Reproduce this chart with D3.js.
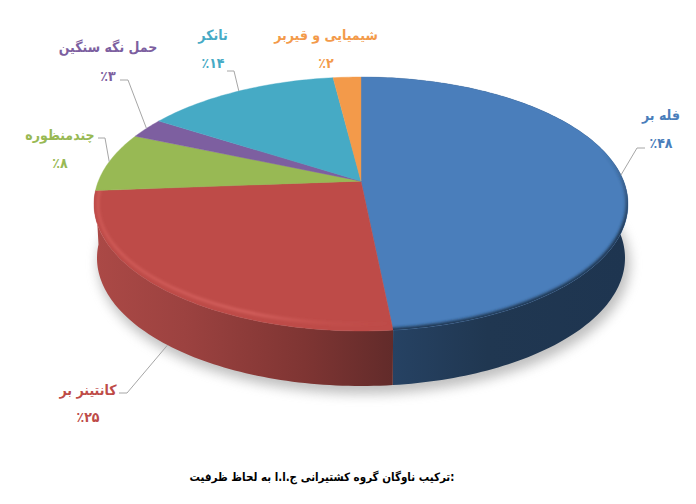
<!DOCTYPE html>
<html lang="fa">
<head>
<meta charset="utf-8">
<style>
  html, body { margin: 0; padding: 0; background: #fff; }
  text { font-family: "DejaVu Sans Condensed", "DejaVu Sans", sans-serif; font-weight: bold; direction: rtl; }
</style>
</head>
<body>
<svg id="chart" width="696" height="504"></svg>
<script src="https://cdn.jsdelivr.net/npm/d3@7"></script>
<script>
// data, clockwise from 12 o'clock (printed labels are rounded, slice sizes)
const categories = ["فله بر", "کانتینر بر", "چندمنظوره", "حمل نگه سنگین", "تانکر", "شیمیایی و قیربر"];
const shares = [48.4, 25.4, 7.6, 2.6, 14, 2];
const shareLabels = ["٪۴۸", "٪۲۵", "٪۸", "٪۳", "٪۱۴", "٪۲"];
const colors = ["#4a7ebb", "#be4b48", "#98b954", "#7d5fa0", "#46aac5", "#f39a4a"];
const caption = ":ترکیب ناوگان گروه کشتیرانی ج.ا.ا به لحاظ ظرفیت";

// label centres [x, name y, value y]
const labelPos = [[661, 115, 143], [88, 390, 417], [60, 135, 163], [108, 47, 76], [213, 35, 63], [326, 35, 63]];
// leader line elbows, null = no leader
const leaders = [
  [[637, 148], [645, 148]],
  [[127, 393], [119, 393]],
  [[105, 138], [98, 138]],
  [[128, 80], [120, 80]],
  [[234, 71], [227, 71]],
  null
];

const top_ = {cx: 361, cy: 204, rx: 267, ry: 127};
const base = {cx: 361, cy: 258, rx: 264, ry: 128};
const tilt = 0.18;   // how far the apex sits above the ellipse centre (perspective)

// circle angle -> point on the rim, projective so the centre lands on the apex
function project(e, a) {
  const u = Math.sin(a), v = -Math.cos(a);
  const w = 1 - tilt * v;
  return [
    e.cx + e.rx * u * Math.sqrt(1 - tilt * tilt) / w,
    e.cy + e.ry * (v - tilt) / w
  ];
}
function rimPoints(e, a0, a1) {
  const n = Math.max(2, Math.ceil((a1 - a0) / 0.02));
  return d3.range(n + 1).map(i => project(e, a0 + (a1 - a0) * i / n));
}

const arcs = d3.pie().sort(null).value(d => d)(shares);
const line = d3.line().curve(d3.curveLinear);
const apex = [top_.cx, top_.cy - tilt * top_.ry];

const svg = d3.select("#chart");
const defs = svg.append("defs");

const blur = (id, sd) => defs.append("filter").attr("id", id)
  .attr("x", "-20%").attr("y", "-20%").attr("width", "140%").attr("height", "140%")
  .append("feGaussianBlur").attr("stdDeviation", sd);
blur("shadow", 6);
blur("soft", 1.5);

const gradient = (id, x1, y1, x2, y2, stops) => {
  const g = defs.append("linearGradient").attr("id", id)
    .attr("gradientUnits", "userSpaceOnUse")
    .attr("x1", x1).attr("x2", x2).attr("y1", y1).attr("y2", y2);
  stops.forEach(s => g.append("stop").attr("offset", s[0]).attr("stop-color", s[1]).attr("stop-opacity", s[2] === undefined ? 1 : s[2]));
};
gradient("side0", 393, 0, 628, 0, [[0, "#264263"], [0.4, "#203751"], [1, "#1e3550"]]);
gradient("side1", 95, 0, 393, 0, [[0, "#ab4946"], [0.3, "#9c4240"], [0.7, "#7f3533"], [1, "#622b2a"]]);
gradient("glint", 94, 0, 393, 0, [[0, "#e8706b", 0.6], [0.55, "#ec7874", 0.7], [0.85, "#d9625e", 0.2], [1, "#d9625e", 0]]);
gradient("rimDark", 0, 150, 0, 230, [[0, "#1f3650", 0], [1, "#1f3650", 1]]);

const wedge = d => line([apex, ...rimPoints(top_, d.startAngle, d.endAngle)]) + "Z";

arcs.forEach((d, i) => {
  defs.append("clipPath").attr("id", `wedge${i}`).append("path").attr("d", wedge(d));
});

// shadow under the drum
svg.append("ellipse")
  .attr("cx", base.cx + 3).attr("cy", base.cy + 6)
  .attr("rx", base.rx + 2).attr("ry", base.ry + 2)
  .attr("fill", "#8c8c8c").attr("opacity", 0.55)
  .attr("filter", "url(#shadow)");

// drum side, only the two front slices show
svg.append("g").selectAll("path")
  .data(arcs.slice(0, 2))
  .join("path")
  .attr("d", d => line([
    ...rimPoints(top_, d.startAngle, d.endAngle),
    ...rimPoints(base, d.startAngle, d.endAngle).reverse()
  ]) + "Z")
  .attr("fill", (d, i) => `url(#side${i})`);

// top face
svg.append("g").selectAll("path")
  .data(arcs)
  .join("path")
  .attr("d", wedge)
  .attr("fill", (d, i) => colors[i])
  .attr("stroke", (d, i) => colors[i])
  .attr("stroke-width", 0.4);

// bevel on the front rim
const bevel = svg.append("g");
bevel.append("g").attr("clip-path", "url(#wedge0)")
  .append("ellipse")
  .attr("cx", top_.cx).attr("cy", top_.cy).attr("rx", top_.rx).attr("ry", top_.ry)
  .attr("fill", "none").attr("stroke", "url(#rimDark)").attr("stroke-width", 5)
  .attr("filter", "url(#soft)");
const redRim = bevel.append("g").attr("clip-path", "url(#wedge1)");
redRim.append("ellipse")
  .attr("cx", top_.cx).attr("cy", top_.cy).attr("rx", top_.rx - 4).attr("ry", top_.ry - 7)
  .attr("fill", "none").attr("stroke", "url(#glint)").attr("stroke-width", 1.8)
  .attr("filter", "url(#soft)");

// leader lines, the front slice's leader starts from the bottom of the drum
svg.append("g").selectAll("path")
  .data(arcs.filter((d, i) => leaders[i]))
  .join("path")
  .attr("d", d => line([project(d.index === 1 ? base : top_, (d.startAngle + d.endAngle) / 2), ...leaders[d.index]]))
  .attr("fill", "none")
  .attr("stroke", "#a6a6a6")
  .attr("stroke-width", 1);

// labels
const labels = svg.append("g").attr("text-anchor", "middle").attr("font-size", 14);
categories.forEach((name, i) => {
  const [x, y1, y2] = labelPos[i];
  labels.append("text").attr("x", x).attr("y", y1).attr("dy", "0.35em").attr("fill", colors[i]).text(name);
  labels.append("text").attr("x", x).attr("y", y2).attr("dy", "0.35em").attr("fill", colors[i]).text(shareLabels[i]);
});

svg.append("text")
  .attr("x", 322).attr("y", 477).attr("dy", "0.35em")
  .attr("text-anchor", "middle")
  .attr("font-size", 11.5)
  .attr("fill", "#000")
  .text(caption);
</script>
</body>
</html>
